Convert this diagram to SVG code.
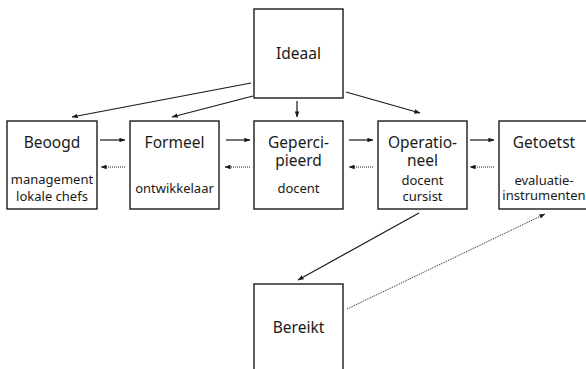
<svg xmlns="http://www.w3.org/2000/svg" width="586" height="369" viewBox="0 0 586 369">
<style>
.box{fill:#fff;stroke:#1a1a1a;stroke-width:1.4}
.t{font-family:"Noto Sans",sans-serif;font-size:15.5px;fill:#1a1a1a;text-anchor:middle}
.s{font-family:"Noto Sans",sans-serif;font-size:13px;fill:#1a1a1a;text-anchor:middle}
.c{stroke:#1a1a1a;stroke-width:1.2;fill:none;marker-end:url(#ah)}
.d{stroke:#1a1a1a;stroke-width:1;fill:none;stroke-dasharray:1 1;marker-end:url(#ah)}
</style>
<defs>
<marker id="ah" viewBox="0 0 8 6" refX="7.5" refY="3" markerWidth="6" markerHeight="5" markerUnits="userSpaceOnUse" orient="auto">
<path d="M0,0 L8,3 L0,6 Z" fill="#1a1a1a"/>
</marker>
</defs>
<g id="ideaal"><rect class="box" x="254" y="9" width="89" height="89"/><text class="t" x="298.5" y="59">Ideaal</text></g>
<g id="beoogd"><rect class="box" x="7" y="121" width="90" height="88"/><text class="t" x="52" y="148">Beoogd</text><text class="s" x="52" y="184">management</text><text class="s" x="52" y="201">lokale chefs</text></g>
<g id="formeel"><rect class="box" x="130" y="121" width="89" height="88"/><text class="t" x="174.5" y="148">Formeel</text><text class="s" x="174.5" y="193">ontwikkelaar</text></g>
<g id="gepercipieerd"><rect class="box" x="254" y="121" width="89" height="88"/><text class="t" x="298.5" y="148">Geperci-</text><text class="t" x="298.5" y="166">pieerd</text><text class="s" x="298.5" y="193">docent</text></g>
<g id="operationeel"><rect class="box" x="378" y="121" width="89" height="88"/><text class="t" x="422.5" y="148">Operatio-</text><text class="t" x="422.5" y="166">neel</text><text class="s" x="422.5" y="185">docent</text><text class="s" x="422.5" y="201">cursist</text></g>
<g id="getoetst"><rect class="box" x="499" y="121" width="90" height="88"/><text class="t" x="544" y="148">Getoetst</text><text class="s" x="544" y="185">evaluatie-</text><text class="s" x="544" y="200">instrumenten</text></g>
<g id="bereikt"><rect class="box" x="254" y="284" width="89" height="92"/><text class="t" x="298.5" y="333">Bereikt</text></g>
<g id="connectors">
<line class="c" x1="251" y1="83" x2="72" y2="117"/>
<line class="c" x1="253" y1="96" x2="172" y2="117"/>
<line class="c" x1="297" y1="101" x2="297" y2="117"/>
<line class="c" x1="346" y1="92" x2="420" y2="113"/>
<line class="c" x1="100" y1="140" x2="125" y2="140"/>
<line class="c" x1="226" y1="140" x2="250" y2="140"/>
<line class="c" x1="349" y1="140" x2="373" y2="140"/>
<line class="c" x1="470" y1="140" x2="494" y2="140"/>
<line class="d" x1="125" y1="167" x2="101" y2="167"/>
<line class="d" x1="250" y1="167" x2="225" y2="167"/>
<line class="d" x1="373" y1="167" x2="349" y2="167"/>
<line class="d" x1="494" y1="167" x2="470" y2="167"/>
<line class="c" x1="419" y1="213" x2="298" y2="280"/>
<line class="d" x1="347" y1="309" x2="545" y2="214"/>
</g>
</svg>
